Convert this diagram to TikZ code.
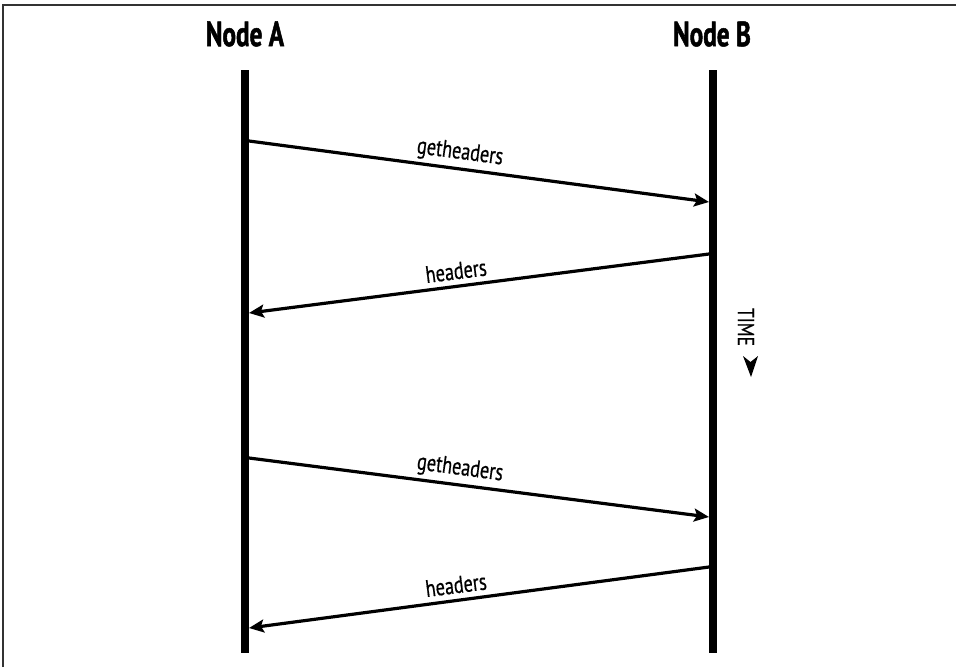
\documentclass[tikz,border=0pt]{standalone}
\usepackage{fontspec}
\setmainfont{PT Sans}
\newfontfamily\headfont[FakeStretch=0.72,FakeBold=1.4]{PT Sans Bold}
\newfontfamily\labfont[FakeStretch=0.76,FakeBold=0.6]{PT Sans}
\usetikzlibrary{arrows.meta}
\begin{document}
\begin{tikzpicture}[x=1pt,y=-1pt,
  lifeline/.style={line width=8pt},
  msg/.style={line width=3.2pt,-{Stealth[length=15pt,width=13pt,inset=3pt]}},
  title/.style={font=\headfont\fontsize{35}{37}\selectfont,inner sep=0pt},
  lab/.style={font=\labfont\fontsize{24}{26}\selectfont,inner sep=0pt}]
\useasboundingbox (0,0) rectangle (956,667);
\draw[line width=1.5pt,black!80] (3,667) -- (3,5) -- (956,5);
% headers
\node[title] (na) at (245,34) {Node A};
\node[title] (nb) at (712,34) {Node B};
% lifelines
\coordinate (atop) at (245,70);
\coordinate (abot) at (245,653);
\coordinate (btop) at (712.5,70);
\coordinate (bbot) at (712.5,653);
\draw[lifeline] (atop) -- (abot);
\draw[lifeline] (btop) -- (bbot);
% message endpoints
\coordinate (a1) at (249,141);
\coordinate (b1) at (709,202);
\coordinate (b2) at (709,254);
\coordinate (a2) at (249,313);
\coordinate (a3) at (249,458);
\coordinate (b3) at (709,517);
\coordinate (b4) at (709,567);
\coordinate (a4) at (249,628);
\draw[msg] (a1) -- (b1);
\draw[msg] (b2) -- (a2);
\draw[msg] (a3) -- (b3);
\draw[msg] (b4) -- (a4);
% labels
\node[lab,rotate=-7.6] (l1) at (460,153) {getheaders};
\node[lab,rotate=7.3] (l2) at (456,271) {headers};
\node[lab,rotate=-7.6] (l3) at (460,469) {getheaders};
\node[lab,rotate=7.3] (l4) at (456,585) {headers};
% time
\node[lab,font=\labfont\fontsize{23}{25}\selectfont,rotate=-90] (time) at (746,327) {TIME};
\fill (743,356) -- (750.5,362) -- (758,356) -- (751,377) -- cycle;
\end{tikzpicture}
\end{document}
